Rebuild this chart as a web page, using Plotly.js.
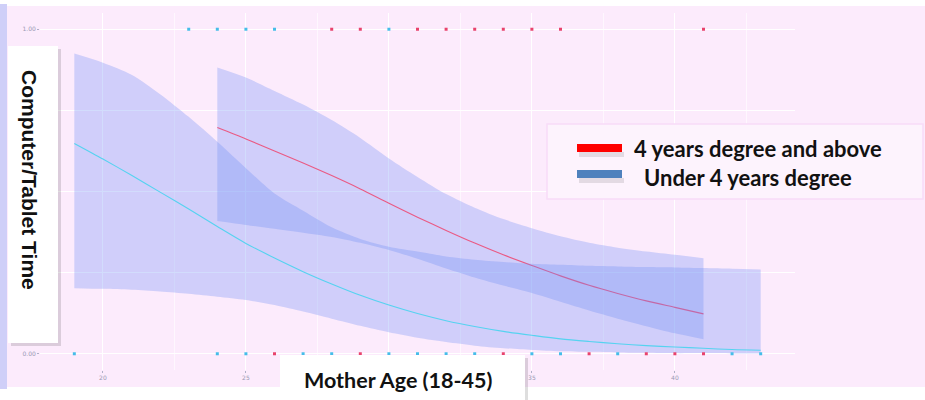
<!DOCTYPE html>
<html>
<head>
<meta charset="utf-8">
<script src="https://cdn.plot.ly/plotly-3.0.1.min.js"></script>
<style>html,body{margin:0;padding:0;background:#fff;}#chart{width:925px;height:400px;}</style>
</head>
<body>
<div id="chart"></div>
<script>
// ---------- data ----------
const cyanAges  = [19,20,21,22,23,24,25,26,27,28,29,30,31,32,33,34,35,36,37,38,39,40,41,42,43];
const cyanFit   = [0.648,0.600,0.550,0.498,0.446,0.392,0.340,0.295,0.253,0.215,0.180,0.150,0.124,0.102,0.084,0.069,0.057,0.046,0.038,0.031,0.025,0.021,0.017,0.013,0.011];
const cyanUpper = [0.925,0.897,0.860,0.800,0.730,0.653,0.572,0.494,0.441,0.390,0.354,0.330,0.315,0.300,0.290,0.283,0.277,0.274,0.271,0.269,0.267,0.266,0.264,0.262,0.260];
const cyanLower = [0.202,0.200,0.197,0.192,0.185,0.176,0.166,0.150,0.130,0.108,0.086,0.066,0.049,0.036,0.025,0.017,0.012,0.008,0.006,0.004,0.003,0.002,0.002,0.001,0.001];

const redAges  = [24,25,26,27,28,29,30,31,32,33,34,35,36,37,38,39,40,41];
const redFit   = [0.697,0.662,0.625,0.588,0.549,0.508,0.464,0.421,0.380,0.341,0.305,0.272,0.240,0.211,0.186,0.163,0.143,0.123];
const redUpper = [0.882,0.851,0.810,0.768,0.720,0.665,0.602,0.545,0.492,0.450,0.415,0.387,0.362,0.342,0.327,0.315,0.305,0.294];
const redLower = [0.409,0.397,0.385,0.373,0.360,0.342,0.320,0.293,0.263,0.235,0.210,0.187,0.160,0.133,0.108,0.085,0.063,0.045];

// rug observations (outcome 1 at top, 0 at bottom)
const topCyanAges    = [23,24,25,26,30];
const topRedAges     = [28,29,31,32,33,34,35,36,41];
const bottomCyanAges = [19,24,25,27,28,30,31,32,33,35,36,38,42,43];
const bottomRedAges  = [26,29,34,37,39,40,41];

const xTickVals = [20,25,30,35,40];
const xTickText = ['20','25','','35','40'];          // "30" sits under the title box
const yTickVals = [0,0.25,0.5,0.75,1];
const yTickText = ['0.00','','','','1.00'];         // the others sit under the title box
const yTitle = "Computer/Tablet Time";
const xTitle = "Mother Age (18-45)";
const legendLabels = ["4 years degree and above", "Under 4 years degree"];

// ---------- styles ----------
const W = 925, H = 400;
const M = {l: 40, r: 130, t: 13, b: 30};
const PW = W - M.l - M.r, PH = H - M.t - M.b;
const px = x => (x - M.l) / PW;          // pixel -> paper
const py = y => (H - M.b - y) / PH;

const pink = '#fcebfc';
const bandFill = 'rgba(105,140,245,0.30)';
const redLine = '#ea5a84', cyanLine = '#55d3f0';
const redPt = '#e8436d', cyanPt = '#45bde9';

function edge(xs, ys, fill) {
  return {x: xs, y: ys, type: 'scatter', mode: 'lines', fill: fill || 'none',
          fillcolor: bandFill, line: {width: 0, shape: 'spline', smoothing: 0.8},
          hoverinfo: 'skip', showlegend: false};
}
function line(xs, ys, c) {
  return {x: xs, y: ys, type: 'scatter', mode: 'lines',
          line: {color: c, width: 1.1, shape: 'spline', smoothing: 0.8}, showlegend: false};
}
function rug(xs, v, c) {
  return {x: xs, y: xs.map(() => v), type: 'scatter', mode: 'markers',
          marker: {symbol: 'square', size: 3, color: c, line: {width: 0}}, showlegend: false};
}

const traces = [
  edge(redAges, redLower),
  edge(redAges, redUpper, 'tonexty'),
  line(redAges, redFit, redLine),
  edge(cyanAges, cyanLower),
  edge(cyanAges, cyanUpper, 'tonexty'),
  line(cyanAges, cyanFit, cyanLine),
  rug(topRedAges, 1, redPt),
  rug(bottomRedAges, 0, redPt),
  rug(topCyanAges, 1, cyanPt),
  rug(bottomCyanAges, 0, cyanPt)
];

function rect(x0, y0, x1, y1, fill, layer, lineColor, lw) {
  return {type: 'rect', xref: 'paper', yref: 'paper',
          x0: px(x0), x1: px(x1), y0: py(y1), y1: py(y0),
          fillcolor: fill, line: {width: lw || 0, color: lineColor || 'rgba(0,0,0,0)'}, layer: layer};
}

const shapes = [
  rect(7, 6, 925, 387, pink, 'below'),
  rect(0, 4, 7, 389, '#cfcff8', 'below'),
  // legend box
  rect(547, 124, 923, 199, '#fdf3fd', 'above', '#f8dcf8', 1.5),
  rect(579, 152, 624, 157, 'rgba(0,0,0,0.10)', 'above'),
  rect(577, 144, 622, 152, '#ff0000', 'above'),
  rect(579, 178, 624, 183, 'rgba(0,0,0,0.10)', 'above'),
  rect(577, 170, 622, 178, '#4f81bd', 'above'),
  // y title box with shadow
  rect(11, 49, 61, 346, 'rgba(0,0,0,0.13)', 'above'),
  rect(8, 46, 58, 343, '#ffffff', 'above'),
  // x title box with shadow
  rect(283, 358, 528, 400, 'rgba(0,0,0,0.13)', 'above'),
  rect(280, 355, 525, 400, '#ffffff', 'above')
];

const annotations = [
  {text: '<b>' + yTitle + '</b>', xref: 'paper', yref: 'paper', x: px(30), y: py(180),
   xanchor: 'center', yanchor: 'middle', textangle: 90, showarrow: false,
   font: {family: 'Liberation Sans, Arial, sans-serif', size: 21, color: '#111'}},
  {text: '<b>' + xTitle + '</b>', xref: 'paper', yref: 'paper', x: px(398), y: py(380),
   xanchor: 'center', yanchor: 'middle', showarrow: false,
   font: {family: 'Lato, sans-serif', size: 21.5, color: '#111'}},
  {text: '<b>' + legendLabels[0] + '</b>', xref: 'paper', yref: 'paper', x: px(632), y: py(148),
   xanchor: 'left', yanchor: 'middle', showarrow: false,
   font: {family: 'Lato, sans-serif', size: 22, color: '#111'}},
  {text: '<b>' + legendLabels[1] + '</b>', xref: 'paper', yref: 'paper', x: px(642), y: py(177),
   xanchor: 'left', yanchor: 'middle', showarrow: false,
   font: {family: 'Lato, sans-serif', size: 22, color: '#111'}}
];

const layout = {
  width: W, height: H,
  margin: M,
  paper_bgcolor: '#ffffff',
  plot_bgcolor: 'rgba(0,0,0,0)',
  showlegend: false,
  xaxis: {
    range: [17.8, 44.2], tickvals: xTickVals, ticktext: xTickText,
    showgrid: true, gridcolor: '#ffffff', gridwidth: 1,
    minor: {tickvals: [22.5,27.5,32.5,37.5,42.5], showgrid: true, gridcolor: '#ffffff', gridwidth: 0.6, ticks: ''},
    zeroline: false, showline: false, ticks: 'outside', ticklen: 2, tickcolor: '#b0b0c8',
    tickfont: {size: 6, color: '#9a9ab4', family: 'DejaVu Sans'}, automargin: false
  },
  yaxis: {
    range: [-0.05, 1.05], tickvals: yTickVals, ticktext: yTickText,
    showgrid: true, gridcolor: '#ffffff', gridwidth: 1,
    zeroline: false, showline: false, ticks: 'outside', ticklen: 2, tickcolor: '#b0b0c8',
    tickfont: {size: 6, color: '#9a9ab4', family: 'DejaVu Sans'}, automargin: false
  },
  shapes: shapes,
  annotations: annotations
};

Plotly.newPlot('chart', traces, layout, {staticPlot: true, displayModeBar: false});
</script>
</body>
</html>
